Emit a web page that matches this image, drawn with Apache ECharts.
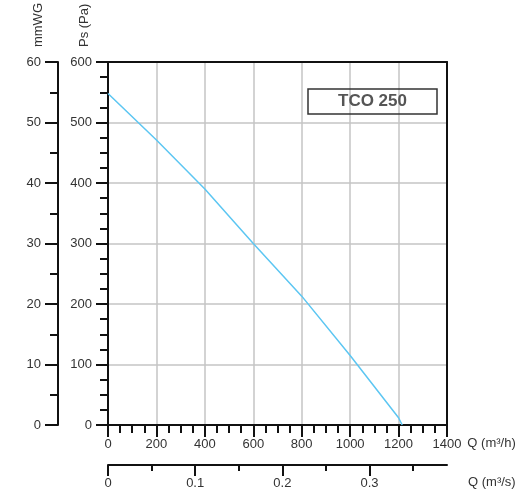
<!DOCTYPE html>
<html>
<head>
<meta charset="utf-8">
<script src="https://cdn.jsdelivr.net/npm/echarts@6/dist/echarts.min.js"></script>
<style>html,body{margin:0;padding:0;background:#fff;}#c{width:531px;height:499px;}</style>
</head>
<body>
<div id="c"></div>
<script>
// Data
const flowM3h = [0, 200, 400, 600, 800, 1000, 1200, 1215];
const pressurePa = [548, 471, 390, 300, 213, 115, 12, 0];
const qM3sMajor = [0, 0.1, 0.2, 0.3];
const qM3sMinor = [0.05, 0.15, 0.25, 0.35];
const modelName = 'TCO 250';

const FONT = 'Liberation Sans, Arial, sans-serif';
const AX = '#111';
const GRID = '#c4c4c4';
const lbl = {color: '#333', fontSize: 13, fontFamily: FONT};

const chart = echarts.init(document.getElementById('c'), null, {renderer: 'canvas'});
chart.setOption({
  animation: false,
  backgroundColor: '#fff',
  title: {
    text: modelName,
    left: 308, top: 89,
    padding: [4, 30],
    borderColor: '#333', borderWidth: 1.5,
    textStyle: {fontFamily: FONT, fontSize: 17, fontWeight: 'bold', color: '#555', lineHeight: 17}
  },
  grid: {left: 108, right: 84, top: 62, bottom: 74, containLabel: false},
  xAxis: [
    {
      type: 'value', min: 0, max: 1400, interval: 200, position: 'bottom',
      name: 'Q (m³/h)', nameLocation: 'end', nameGap: 20,
      nameTextStyle: {color: '#333', fontSize: 13, fontFamily: FONT, verticalAlign: 'top', padding: [12, 0, 0, 0]},
      axisLine: {show: true, onZero: false, lineStyle: {color: AX, width: 2}},
      axisTick: {show: true, inside: false, length: 12, lineStyle: {color: AX, width: 2}},
      minorTick: {show: true, splitNumber: 4, length: 8, lineStyle: {color: AX, width: 2}},
      axisLabel: Object.assign({margin: 13, formatter: v => String(v)}, lbl),
      splitLine: {show: true, lineStyle: {color: GRID, width: 1.5}},
      minorSplitLine: {show: false}
    },
    {
      type: 'value', min: 0, max: 1400 / 3600, position: 'bottom', offset: 40,
      name: 'Q (m³/s)', nameLocation: 'end', nameGap: 21,
      nameTextStyle: {color: '#333', fontSize: 13, fontFamily: FONT, verticalAlign: 'top', padding: [11, 0, 0, 0]},
      axisLine: {show: true, onZero: false, lineStyle: {color: AX, width: 2}},
      axisTick: {show: true, length: 11, customValues: qM3sMajor, lineStyle: {color: AX, width: 2}},
      axisLabel: Object.assign({margin: 12, customValues: qM3sMajor, formatter: v => String(+v.toFixed(2))}, lbl),
      splitLine: {show: false}
    },
    {
      type: 'value', min: 0, max: 1400 / 3600, position: 'bottom', offset: 40,
      axisLine: {show: false, onZero: false},
      axisTick: {show: true, length: 6, customValues: qM3sMinor, lineStyle: {color: AX, width: 2}},
      axisLabel: {show: false},
      splitLine: {show: false}
    },
    {
      type: 'value', min: 0, max: 1400, position: 'top',
      axisLine: {show: true, onZero: false, lineStyle: {color: AX, width: 2}},
      axisTick: {show: false}, axisLabel: {show: false}, splitLine: {show: false}
    }
  ],
  yAxis: [
    {
      type: 'value', min: 0, max: 600, interval: 100, position: 'left',
      name: 'Ps (Pa)', nameLocation: 'end', nameGap: 15, nameRotate: 90,
      nameTextStyle: {color: '#333', fontSize: 13, fontFamily: FONT, verticalAlign: 'bottom', padding: [0, 0, 17, 0]},
      axisLine: {show: true, onZero: false, lineStyle: {color: AX, width: 2}},
      axisTick: {show: true, length: 12, lineStyle: {color: AX, width: 2}},
      minorTick: {show: true, splitNumber: 4, length: 8, lineStyle: {color: AX, width: 2}},
      axisLabel: Object.assign({margin: 16}, lbl),
      splitLine: {show: true, lineStyle: {color: GRID, width: 1.5}}
    },
    {
      type: 'value', min: 0, max: 60, interval: 10, position: 'left', offset: 50,
      name: 'mmWG', nameLocation: 'end', nameGap: 15, nameRotate: 90,
      nameTextStyle: {color: '#333', fontSize: 13, fontFamily: FONT, verticalAlign: 'bottom', padding: [0, 0, 13, 0]},
      axisLine: {show: true, onZero: false, lineStyle: {color: AX, width: 2}},
      axisTick: {show: true, length: 13, lineStyle: {color: AX, width: 2}},
      minorTick: {show: true, splitNumber: 2, length: 8, lineStyle: {color: AX, width: 2}},
      axisLabel: Object.assign({margin: 17}, lbl),
      splitLine: {show: false}
    },
    {
      type: 'value', min: 0, max: 600, position: 'right',
      axisLine: {show: true, onZero: false, lineStyle: {color: AX, width: 2}},
      axisTick: {show: false}, axisLabel: {show: false}, splitLine: {show: false}
    }
  ],
  series: [{
    type: 'line', xAxisIndex: 0, yAxisIndex: 0,
    data: flowM3h.map((q, i) => [q, pressurePa[i]]),
    showSymbol: false, symbol: 'none',
    smooth: false,
    lineStyle: {color: '#5cc6f2', width: 1.5}
  }]
});
</script>
</body>
</html>
